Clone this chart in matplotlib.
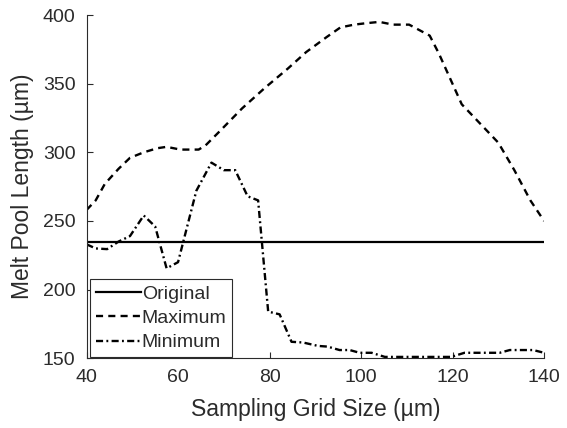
import matplotlib
matplotlib.use("Agg")
import matplotlib.pyplot as plt

# Data
orig_x = [40, 140]
orig_y = [235, 235]

max_x = [40, 42, 44, 47, 49.5, 52.5, 55.5, 57.5, 60.5, 64.5, 66, 69, 74, 79, 84, 88,
         92.5, 95.5, 98.5, 101, 104, 107, 110.5, 115, 117, 122, 126, 130, 133.5, 137, 140]
max_y = [258, 265, 277, 288, 296, 300, 303, 304, 302, 302, 305, 315, 332, 347, 361, 373,
         384, 391, 393, 394, 395, 393, 393, 385, 372, 335, 321, 307, 287, 265, 250]

min_x = [40, 42, 44.5, 47, 49.5, 52.5, 55, 57.5, 60, 64, 67.3, 70, 72.5, 75.2, 77.5, 79.7,
         82.2, 84.8, 87.3, 90.6, 92.7, 95.3, 97.5, 99.7, 102.3, 105.2, 119.7, 122.6, 130.3,
         132.5, 137.6, 140]
min_y = [233, 230, 229.5, 235, 239, 254, 246, 215.5, 220, 272, 292.5, 287, 287, 268, 265, 184,
         182, 162, 161.5, 159, 158.5, 156, 156, 154, 154, 151, 151, 154, 154, 156, 156, 154]

x_ticks = [40, 60, 80, 100, 120, 140]
y_ticks = [150, 200, 250, 300, 350, 400]
labels = ["Original", "Maximum", "Minimum"]

plt.rcParams['font.family'] = ['Liberation Sans', 'DejaVu Sans']
text_col = '#2b2b2b'

fig = plt.figure(figsize=(5.67, 4.28), dpi=100)
ax = fig.add_axes([0.1526, 0.1629, 0.807, 0.802])

ax.plot(orig_x, orig_y, color='black', lw=1.6, linestyle='-', label=labels[0])
ax.plot(max_x, max_y, color='black', lw=1.7, linestyle=(0, (3.0, 2.2)), label=labels[1])
ax.plot(min_x, min_y, color='black', lw=1.7, linestyle=(0, (3.0, 1.4, 0.8, 1.4)), label=labels[2])

ax.set_xlim(40, 140)
ax.set_ylim(150, 400)
ax.set_xticks(x_ticks)
ax.set_yticks(y_ticks)
ax.spines['top'].set_visible(False)
ax.spines['right'].set_visible(False)
for s in ['left', 'bottom']:
    ax.spines[s].set_color(text_col)
    ax.spines[s].set_linewidth(0.8)
ax.tick_params(direction='in', length=4, width=0.8, colors=text_col, labelsize=14, pad=8)

ax.set_xlabel('Sampling Grid Size (µm)', fontsize=16.5, color=text_col, labelpad=8)
ax.set_ylabel('Melt Pool Length (µm)', fontsize=16.5, color=text_col, labelpad=6)

leg = ax.legend(loc='lower left', bbox_to_anchor=(0.008, 0.003), borderaxespad=0,
                fontsize=14, handlelength=2.3, handletextpad=0.05, labelspacing=0.35,
                borderpad=0.3, fancybox=False, framealpha=1, edgecolor=text_col)
leg.get_frame().set_linewidth(0.8)
for t in leg.get_texts():
    t.set_color(text_col)

fig.savefig('out.png', dpi=100)
